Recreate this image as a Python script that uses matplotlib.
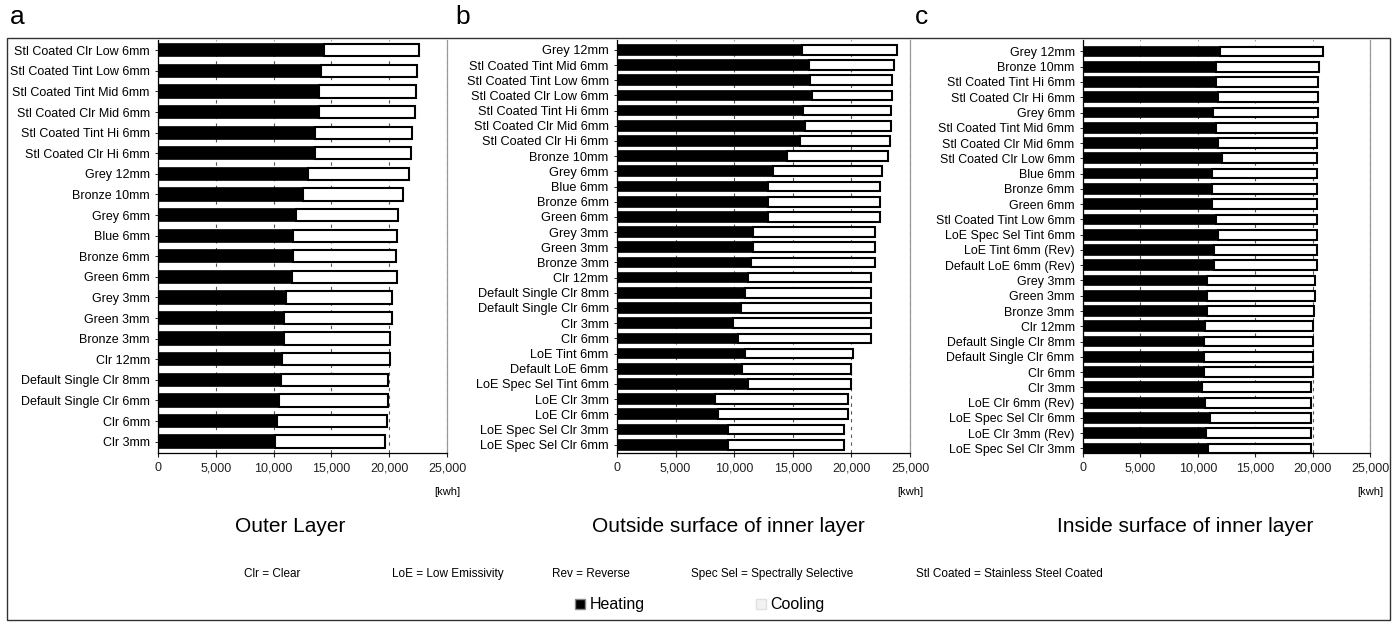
import matplotlib
matplotlib.use("Agg")
import matplotlib.pyplot as plt
from matplotlib.patches import Patch, Rectangle
from matplotlib.ticker import FuncFormatter

plt.rcParams["font.family"] = ["Liberation Sans", "DejaVu Sans"]

# panel a - outer layer (heating, total) in kwh
a_labels = ["Stl Coated Clr Low 6mm", "Stl Coated Tint Low 6mm", "Stl Coated Tint Mid 6mm",
            "Stl Coated Clr Mid 6mm", "Stl Coated Tint Hi 6mm", "Stl Coated Clr Hi 6mm",
            "Grey 12mm", "Bronze 10mm", "Grey 6mm", "Blue 6mm", "Bronze 6mm", "Green 6mm",
            "Grey 3mm", "Green 3mm", "Bronze 3mm", "Clr 12mm", "Default Single Clr 8mm",
            "Default Single Clr 6mm", "Clr 6mm", "Clr 3mm"]
a_heating = [14400, 14100, 13900, 13900, 13600, 13600, 13000, 12500, 11900, 11700,
             11700, 11600, 11100, 10900, 10900, 10700, 10600, 10500, 10300, 10100]
a_total = [22600, 22400, 22300, 22200, 22000, 21900, 21700, 21200, 20800, 20700,
           20600, 20700, 20200, 20200, 20100, 20100, 19900, 19900, 19800, 19600]

# panel b - outside surface of inner layer
b_labels = ["Grey 12mm", "Stl Coated Tint Mid 6mm", "Stl Coated Tint Low 6mm",
            "Stl Coated Clr Low 6mm", "Stl Coated Tint Hi 6mm", "Stl Coated Clr Mid 6mm",
            "Stl Coated Clr Hi 6mm", "Bronze 10mm", "Grey 6mm", "Blue 6mm", "Bronze 6mm",
            "Green 6mm", "Grey 3mm", "Green 3mm", "Bronze 3mm", "Clr 12mm",
            "Default Single Clr 8mm", "Default Single Clr 6mm", "Clr 3mm", "Clr 6mm",
            "LoE Tint 6mm", "Default LoE 6mm", "LoE Spec Sel Tint 6mm", "LoE Clr 3mm",
            "LoE Clr 6mm", "LoE Spec Sel Clr 3mm", "LoE Spec Sel Clr 6mm"]
b_heating = [15800, 16400, 16500, 16600, 15900, 16000, 15600, 14500, 13300, 12900,
             12900, 12900, 11600, 11600, 11400, 11200, 10900, 10600, 9900, 10300,
             10900, 10700, 11200, 8400, 8600, 9500, 9500]
b_total = [23900, 23600, 23500, 23500, 23400, 23400, 23300, 23100, 22600, 22400,
           22400, 22400, 22000, 22000, 22000, 21700, 21700, 21700, 21700, 21700,
           20100, 20000, 20000, 19700, 19700, 19400, 19400]

# panel c - inside surface of inner layer
c_labels = ["Grey 12mm", "Bronze 10mm", "Stl Coated Tint Hi 6mm", "Stl Coated Clr Hi 6mm",
            "Grey 6mm", "Stl Coated Tint Mid 6mm", "Stl Coated Clr Mid 6mm",
            "Stl Coated Clr Low 6mm", "Blue 6mm", "Bronze 6mm", "Green 6mm",
            "Stl Coated Tint Low 6mm", "LoE Spec Sel Tint 6mm", "LoE Tint 6mm (Rev)",
            "Default LoE 6mm (Rev)", "Grey 3mm", "Green 3mm", "Bronze 3mm", "Clr 12mm",
            "Default Single Clr 8mm", "Default Single Clr 6mm", "Clr 6mm", "Clr 3mm",
            "LoE Clr 6mm (Rev)", "LoE Spec Sel Clr 6mm", "LoE Clr 3mm (Rev)",
            "LoE Spec Sel Clr 3mm"]
c_heating = [11900, 11600, 11600, 11800, 11300, 11600, 11800, 12100, 11200, 11200,
             11200, 11600, 11800, 11400, 11400, 10800, 10800, 10800, 10600, 10550,
             10550, 10500, 10400, 10600, 11100, 10700, 10900]
c_total = [20900, 20600, 20500, 20500, 20500, 20400, 20350, 20350, 20350, 20350,
           20350, 20350, 20350, 20350, 20350, 20200, 20200, 20100, 20050, 20050,
           20000, 20000, 19900, 19900, 19900, 19900, 19900]

titles = ["Outer Layer", "Outside surface of inner layer", "Inside surface of inner layer"]
abbrevs = ["Clr = Clear", "LoE = Low Emissivity", "Rev = Reverse",
           "Spec Sel = Spectrally Selective", "Stl Coated = Stainless Steel Coated"]

W, H = 1394, 624
fig = plt.figure(figsize=(W / 100, H / 100), dpi=100)

# outer frame of the whole figure
fig.patches.append(Rectangle((7 / W, 1 - 620 / H), (1390 - 7) / W, (620 - 38) / H,
                             transform=fig.transFigure, fill=False, ec="#333333", lw=1.0))

panels = [
    # left px, right px, labels, heating, total, ylim, bar height, letter x, title x, label size
    (158, 447, a_labels, a_heating, a_total, (19.55, -0.5), 0.6, 10, 290, 9.0),
    (617, 910, b_labels, b_heating, b_total, (26.55, -0.65), 0.64, 455, 728, 9.2),
    (1083, 1370, c_labels, c_heating, c_total, (26.3, -0.75), 0.64, 915, 1185, 8.9),
]
letters = ["a", "b", "c"]

for k, (l, r, labels, heat, total, ylim, bh, lx, tx, fs) in enumerate(panels):
    ax = fig.add_axes([l / W, 1 - 453 / H, (r - l) / W, (453 - 40) / H])
    ys = list(range(len(labels)))
    cool = [t - h for t, h in zip(total, heat)]
    ax.barh(ys, heat, height=bh, color="black", edgecolor="black", lw=1.2, zorder=3)
    ax.barh(ys, cool, left=heat, height=bh, color="white", edgecolor="black", lw=1.5, zorder=3)
    ax.set_xlim(0, 25000)
    ax.set_ylim(*ylim)
    ax.set_xticks(range(0, 25001, 5000))
    ax.xaxis.set_major_formatter(FuncFormatter(lambda v, p: f"{int(v):,}"))
    ax.set_yticks(ys)
    ax.set_yticklabels(labels, fontsize=fs)
    ax.tick_params(axis="x", labelsize=9, length=3, width=0.8, colors="#222222")
    ax.tick_params(axis="y", length=2, width=0.6, pad=4)
    ax.grid(axis="x", color="#555555", linestyle=(0, (3, 4)), lw=0.8, zorder=0)
    ax.spines["top"].set_visible(False)
    for s in ["left", "bottom"]:
        ax.spines[s].set_linewidth(0.9)
    ax.spines["right"].set_color("#999999")
    ax.spines["right"].set_linewidth(0.9)
    ax.text(1.0, -0.095, "[kwh]", transform=ax.transAxes, ha="center", va="center", fontsize=8)

    fig.text(lx / W, 1 - 17 / H, letters[k], fontsize=19, ha="left", va="center")
    fig.text(tx / W, 1 - 527 / H, titles[k], fontsize=15, ha="center", va="center")

abbrev_x = [272, 448, 591, 772, 1009]
for t, x in zip(abbrevs, abbrev_x):
    fig.text(x / W, 1 - 574 / H, t, fontsize=8.5, ha="center", va="center")

handles = [Patch(facecolor="black", edgecolor="#888888", label="Heating"),
           Patch(facecolor="#f2f2f2", edgecolor="#e0e0e0", label="Cooling")]
fig.legend(handles=handles, loc="center", bbox_to_anchor=(700 / W, 1 - 605 / H), ncol=2,
           frameon=False, fontsize=11.5, handlelength=0.6, handleheight=0.6,
           handletextpad=0.3, columnspacing=7)

fig.savefig("out.png", dpi=100, facecolor="white")
